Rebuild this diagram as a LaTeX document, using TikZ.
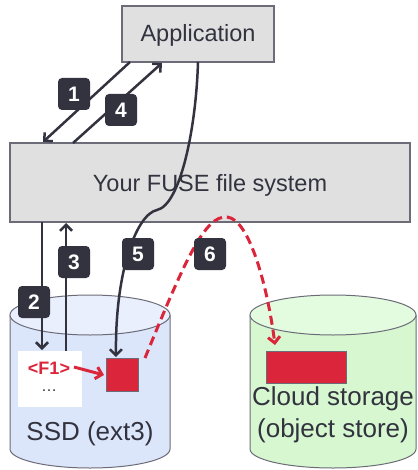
\documentclass[tikz,border=0pt]{standalone}
\usepackage{fontspec}
\setmainfont{Liberation Sans}
\usetikzlibrary{arrows.meta}
\definecolor{dk}{HTML}{32333F}
\definecolor{boxfill}{HTML}{E0E0E0}
\definecolor{boxline}{HTML}{6C6C78}
\definecolor{rd}{HTML}{DA253B}
\definecolor{ssdbody}{HTML}{DCE6FB}
\definecolor{ssdtop}{HTML}{E9EFFC}
\definecolor{cloudbody}{HTML}{D6F7D0}
\definecolor{cloudtop}{HTML}{E3FBDF}
\tikzset{
  bigbox/.style={draw=boxline, fill=boxfill, line width=1.2pt, inner sep=0pt},
  badge/.style={fill=dk, text=white, rounded corners=4pt, minimum width=32pt, minimum height=32pt, inner sep=0pt, font=\fontsize{21}{24}\selectfont\bfseries},
  conn/.style={draw=dk, line width=2.5pt},
  tipdk/.style={-{Straight Barb[length=6pt,width=12pt,line width=2.5pt]}},
  redconn/.style={draw=rd, line width=3pt},
  redtip/.style={-{Straight Barb[length=6pt,width=12pt,line width=3pt]}},
  cyl/.style={draw=boxline, line width=1pt},
  lbl/.style={text=dk, inner sep=0pt}
}
\begin{document}
\begin{tikzpicture}[x=1pt,y=-1pt]
\useasboundingbox (0,0) rectangle (417,470);
% boxes
\node[bigbox, minimum width=152pt, minimum height=56pt] (app) at (198,34) {};
\node[lbl, font=\fontsize{23.5}{28}\selectfont] (apptxt) at (198,35) {Application};
\node[bigbox, minimum width=400pt, minimum height=79pt] (fuse) at (210,182.5) {};
\node[lbl, font=\fontsize{23.5}{28}\selectfont] (fusetxt) at (210,185) {Your FUSE file system};
% SSD cylinder
\fill[ssdbody] (10,315) rectangle (170,449);
\fill[ssdbody] (90,449) ellipse [x radius=80, y radius=19];
\draw[cyl] (10,315) -- (10,449) arc[start angle=180, end angle=0, x radius=80, y radius=19] -- (170,315);
\draw[cyl, fill=ssdtop] (90,315) ellipse [x radius=80, y radius=20];
% Cloud cylinder
\fill[cloudbody] (250,315) rectangle (416,449);
\fill[cloudbody] (333,449) ellipse [x radius=83, y radius=19];
\draw[cyl] (250,315) -- (250,449) arc[start angle=180, end angle=0, x radius=83, y radius=19] -- (416,315);
\draw[cyl, fill=cloudtop] (333,315) ellipse [x radius=83, y radius=20];
% contents
\node[fill=white, minimum width=64pt, minimum height=56pt, inner sep=0pt] (wbox) at (50,379) {};
\node[text=rd, font=\fontsize{18}{20}\selectfont\bfseries, inner sep=0pt] (f1) at (49,368) {<F1>};
\node[text=dk, font=\fontsize{16}{18}\selectfont, inner sep=0pt] (dots) at (49,391) {\dots};
\node[fill=rd, draw=boxline, line width=0.8pt, minimum width=32pt, minimum height=33pt, inner sep=0pt] (sq) at (122,374.5) {};
\node[fill=rd, draw=boxline, line width=0.8pt, minimum width=80pt, minimum height=32pt, inner sep=0pt] (csq) at (306,367) {};
\node[lbl, font=\fontsize{26}{30}\selectfont] (ssdtxt) at (90,434) {SSD (ext3)};
\node[lbl, font=\fontsize{26}{30}\selectfont] (cl1) at (333,399) {Cloud storage};
\node[lbl, font=\fontsize{26}{30}\selectfont] (cl2) at (333,431) {(object store)};
% coordinates for connectors
\coordinate (a1s) at (130,62);
\coordinate (a1e) at (43,142);
\coordinate (a4s) at (73,143);
\coordinate (a4e) at (162,63);
\coordinate (a2s) at (42,222);
\coordinate (a2e) at (42,350);
\coordinate (a3s) at (66,351);
\coordinate (a3e) at (66,223);
\coordinate (a5s) at (198,62);
\coordinate (a5m) at (157,210);
\coordinate (a5e) at (116,357);
\coordinate (a6s) at (145,358);
\coordinate (a6m) at (227,217);
\coordinate (a6e) at (275,345);
\coordinate (rfs) at (74,367);
\coordinate (rfe) at (104,375);
% connectors
\draw[conn, tipdk] (a1s) -- (a1e);
\draw[conn, tipdk] (a4s) -- (a4e);
\draw[conn, tipdk] (a2s) -- (a2e);
\draw[conn, tipdk] (a3s) -- (a3e);
\draw[conn, tipdk] (a5s) .. controls (196,130) and (180,205) .. (a5m) .. controls (137,214) and (115,270) .. (a5e);
\draw[redconn, dash pattern=on 9pt off 5pt, redtip] (a6s) .. controls (185,260) and (205,215) .. (a6m) .. controls (250,219) and (268,290) .. (a6e);
\draw[redconn, redtip] (rfs) -- (rfe);
% badges
\node[badge] (b1) at (74,94) {1};
\node[badge] (b4) at (121,110) {4};
\node[badge] (b2) at (34,302) {2};
\node[badge] (b3) at (74,262) {3};
\node[badge] (b5) at (138,254) {5};
\node[badge] (b6) at (210,254) {6};
\end{tikzpicture}
\end{document}
